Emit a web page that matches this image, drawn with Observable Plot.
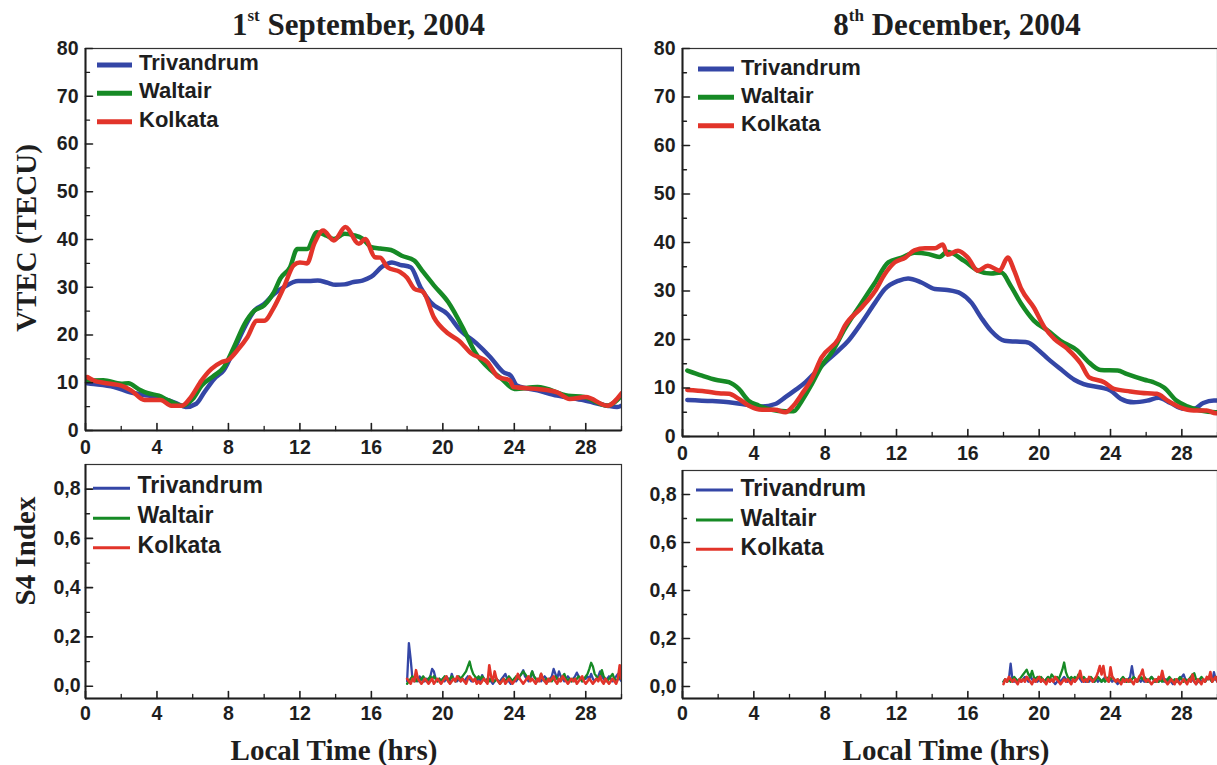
<!DOCTYPE html>
<html>
<head>
<meta charset="utf-8">
<script src="https://cdn.jsdelivr.net/npm/d3@7"></script>
<script src="https://cdn.jsdelivr.net/npm/@observablehq/plot@0.6"></script>
<style>
  body { margin: 0; background: #fff; }
  #wrap { position: relative; width: 1217px; height: 765px; overflow: hidden; background: #fff; }
  .panel { position: absolute; }
  .panel svg { overflow: visible; }
  #overlay { position: absolute; left: 0; top: 0; pointer-events: none; }
</style>
</head>
<body>
<div id="wrap"></div>
<script>
// ---------------- data ----------------
const stations = ["Trivandrum", "Waltair", "Kolkata"];
const stationColors = ["#3446a6", "#168a25", "#e2342a"];
const dayTitles = [["1", "st", " September, 2004"], ["8", "th", " December, 2004"]];
const xLabel = "Local Time (hrs)";
const vtecLabel = "VTEC (TECU)";
const s4Label = "S4 Index";

const hourMajor = [0, 4, 8, 12, 16, 20, 24, 28];
const hourMinor = [2, 6, 10, 14, 18, 22, 26, 30];
const vtecMajor = [0, 10, 20, 30, 40, 50, 60, 70, 80];
const vtecMinor = [5, 15, 25, 35, 45, 55, 65, 75];
const s4Major = [0, 0.2, 0.4, 0.6, 0.8];
const s4Minor = [0.1, 0.3, 0.5, 0.7];

// VTEC [local hour, TECU]
const sepVtecTrivandrum = [[0.1,9.9],[0.3,9.8],[1.6,9.1],[2.5,8.0],[3.5,7.3],[4.4,6.6],[5.1,5.7],[5.6,4.9],[6.2,5.6],[6.65,8.0],[7.2,10.8],[7.75,12.7],[8.3,16.8],[8.9,21.6],[9.45,25.1],[10,26.5],[10.55,28.6],[11.1,30.0],[11.9,31.3],[12.5,31.3],[13,31.4],[13.5,31.0],[14,30.5],[14.5,30.6],[15,31.1],[15.5,31.4],[16,32.2],[16.6,34.3],[17.15,35.2],[17.6,34.7],[18.2,34.2],[18.75,30.0],[19.3,26.9],[20.25,24.4],[21,20.9],[21.9,18.2],[22.65,15.4],[23.4,12.2],[23.8,11.5],[24.15,9.4],[25.3,8.4],[26.4,7.3],[27.9,6.3],[29.2,5.2],[29.75,4.9],[30,5.2]];
const sepVtecWaltair = [[0.1,10.4],[1,10.5],[2,9.8],[2.4,9.9],[3,8.6],[3.5,7.8],[4.1,7.3],[4.65,6.3],[5.4,5.2],[6,6.6],[6.5,9.4],[7.2,11.5],[7.75,13.3],[8.3,17.4],[8.9,22.3],[9.45,25.1],[10,26.2],[10.55,29.0],[10.9,31.8],[11.45,34.2],[11.85,38.0],[12.4,38.0],[12.95,41.5],[13.5,40.8],[13.9,40.1],[14.5,41.2],[15,40.9],[15.5,40.2],[16,38.4],[16.5,38.1],[17.1,37.8],[17.7,36.6],[18.4,35.6],[18.9,33.2],[19.5,30.4],[20.3,26.9],[21.2,20.9],[21.8,16.4],[22.7,12.6],[23.3,10.8],[24,8.7],[25.3,9.1],[27,7.3],[27.9,7.0],[29.2,5.2],[30,7.3]];
const sepVtecKolkata = [[0.1,11.2],[0.5,10.4],[1,10.0],[2,9.4],[2.55,8.4],[3.3,6.4],[4.2,6.4],[4.8,5.2],[5.4,5.2],[5.9,7.0],[6.5,10.5],[7.05,12.9],[7.6,14.3],[8,14.8],[8.5,16.8],[9.05,19.5],[9.6,23.0],[10,23.0],[10.55,25.8],[11.1,30.0],[11.65,34.6],[12,35.2],[12.4,35.0],[12.8,39.1],[13.3,41.9],[13.9,39.8],[14.55,42.6],[15.3,39.1],[15.65,40.1],[16.2,36.3],[16.5,36.2],[16.9,34.2],[17.6,33.2],[18.0,32.0],[18.4,29.7],[18.9,29.0],[19.5,23.7],[20.3,20.3],[20.9,18.8],[21.6,16.1],[22.5,14.3],[23.1,11.2],[23.75,10.5],[23.95,9.1],[25.3,8.7],[26.4,8.0],[27.1,6.6],[28,7.0],[29.2,5.2],[30,7.8]];

const decVtecTrivandrum = [[0.27,7.55],[1.67,7.3],[2.6,7.06],[3.5,6.6],[4.46,6.2],[5.2,6.7],[5.77,8.1],[6.3,9.5],[6.9,11.2],[7.44,13.2],[8.0,15.3],[8.74,17.7],[9.3,19.75],[10.05,23.5],[10.8,27.6],[11.35,30.4],[12.1,32.1],[12.65,32.6],[13.4,31.75],[14.15,30.4],[14.85,30.2],[15.6,29.5],[16.2,27.6],[16.75,24.5],[17.3,21.8],[18.06,19.75],[19.36,19.4],[19.9,18.0],[20.5,16.0],[21.2,13.9],[21.97,11.7],[22.5,10.8],[23.45,10.1],[24.0,9.5],[24.57,7.8],[25.3,7.06],[26.06,7.4],[26.7,8.0],[27.36,6.9],[28.1,5.7],[28.67,5.7],[29.2,6.9],[29.8,7.4],[30,7.4]];
const decVtecWaltair = [[0.27,13.6],[1.1,12.55],[1.85,11.7],[2.6,11.2],[3.16,9.8],[3.7,7.4],[4.27,6.4],[5.0,5.5],[5.77,5.2],[6.23,5.2],[6.7,7.4],[7.25,10.8],[7.8,14.6],[8.37,17.3],[9.1,22.2],[10.05,27.6],[10.8,31.75],[11.54,35.9],[12.3,36.9],[13.0,37.9],[13.8,37.6],[14.4,37.0],[14.85,38.1],[15.8,36.2],[16.56,34.2],[17.3,33.6],[17.87,33.8],[18.4,31.1],[19.0,27.3],[19.7,23.9],[20.5,21.8],[21.2,19.75],[22.15,17.7],[22.7,15.6],[23.45,13.7],[24.4,13.6],[24.9,12.9],[25.9,11.7],[26.4,11.2],[27.0,10.1],[27.7,7.4],[28.3,6.2],[29.04,5.35],[29.9,5.0],[30,5.0]];
const decVtecKolkata = [[0.27,9.6],[1.3,9.3],[2.04,8.9],[2.6,8.8],[3.16,7.75],[3.7,6.4],[4.46,5.5],[5.2,5.5],[5.77,5.0],[6.23,6.4],[6.7,8.8],[7.25,11.9],[7.8,16.3],[8.74,20.1],[9.1,22.8],[10.05,26.6],[10.8,30.0],[11.35,33.5],[11.9,35.9],[12.5,36.9],[13.0,38.4],[13.6,38.8],[14.15,38.8],[14.6,39.6],[14.85,37.5],[15.45,38.3],[16.0,36.9],[16.56,34.2],[17.12,35.2],[17.78,34.2],[18.24,36.9],[18.6,34.2],[19.0,30.4],[19.7,26.6],[20.3,22.5],[20.85,20.1],[21.6,18.0],[22.34,15.0],[22.8,12.2],[23.64,11.2],[24.2,9.8],[25.1,9.3],[26.06,8.9],[26.6,8.8],[27.2,7.4],[27.9,6.0],[28.67,5.35],[29.4,5.35],[29.9,4.8],[30,4.8]];

// S4 index, sampled every 0.1 h from 18.0 h LT
const s4StartHour = 18;
const s4StepHour = 0.1;
const sepS4Trivandrum = [
0.02,0.175,0.11,0.03,0.02,0.03,0.02,0.04,0.03,0.02,
0.02,0.03,0.02,0.04,0.07,0.06,0.03,0.02,0.03,0.02,
0.03,0.02,0.04,0.03,0.02,0.05,0.03,0.02,0.02,0.03,
0.02,0.03,0.02,0.03,0.04,0.03,0.02,0.02,0.03,0.02,
0.03,0.02,0.045,0.03,0.02,0.02,0.03,0.02,0.01,0.02,
0.03,0.02,0.02,0.03,0.04,0.05,0.03,0.02,0.01,0.02,
0.03,0.02,0.03,0.04,0.05,0.065,0.04,0.03,0.02,0.03,
0.06,0.04,0.03,0.02,0.03,0.02,0.03,0.04,0.03,0.02,
0.03,0.04,0.07,0.05,0.03,0.06,0.04,0.03,0.02,0.03,
0.04,0.03,0.02,0.03,0.04,0.055,0.04,0.03,0.02,0.03,
0.03,0.04,0.03,0.05,0.03,0.02,0.03,0.04,0.06,0.04,
0.03,0.02,0.03,0.04,0.03,0.02,0.03,0.04,0.05,0.03,0.02];
const sepS4Waltair = [
0.01,0.02,0.03,0.04,0.03,0.02,0.03,0.02,0.03,0.04,
0.03,0.02,0.03,0.04,0.03,0.04,0.03,0.02,0.03,0.02,
0.03,0.04,0.03,0.02,0.03,0.04,0.03,0.02,0.03,0.04,
0.03,0.04,0.05,0.06,0.08,0.10,0.07,0.05,0.04,0.03,
0.04,0.03,0.04,0.03,0.02,0.03,0.02,0.03,0.02,0.02,
0.03,0.02,0.01,0.02,0.03,0.02,0.03,0.04,0.03,0.02,
0.03,0.04,0.03,0.04,0.05,0.06,0.05,0.04,0.03,0.04,
0.06,0.04,0.03,0.02,0.03,0.05,0.03,0.02,0.03,0.02,
0.03,0.02,0.03,0.04,0.03,0.02,0.03,0.04,0.05,0.03,
0.02,0.03,0.02,0.03,0.02,0.03,0.04,0.03,0.02,0.03,
0.04,0.05,0.07,0.095,0.08,0.05,0.04,0.03,0.04,0.065,
0.04,0.03,0.02,0.03,0.04,0.05,0.03,0.02,0.03,0.04,0.03];
const sepS4Kolkata = [
0.03,0.02,0.01,0.03,0.02,0.065,0.03,0.02,0.01,0.02,
0.03,0.02,0.01,0.02,0.03,0.01,0.02,0.03,0.02,0.01,
0.02,0.03,0.04,0.02,0.01,0.02,0.03,0.02,0.04,0.03,
0.02,0.03,0.02,0.01,0.03,0.04,0.03,0.02,0.03,0.01,
0.02,0.01,0.02,0.03,0.02,0.01,0.085,0.04,0.02,0.06,
0.03,0.02,0.01,0.02,0.03,0.01,0.02,0.03,0.02,0.01,
0.02,0.03,0.05,0.03,0.02,0.01,0.02,0.03,0.04,0.02,
0.03,0.02,0.01,0.03,0.02,0.05,0.03,0.02,0.01,0.03,
0.02,0.03,0.04,0.02,0.01,0.03,0.02,0.04,0.03,0.02,
0.01,0.02,0.03,0.02,0.03,0.01,0.02,0.03,0.04,0.02,
0.01,0.02,0.03,0.02,0.01,0.02,0.03,0.02,0.04,0.02,
0.01,0.03,0.02,0.01,0.02,0.03,0.02,0.01,0.03,0.085,0.03];
const decS4Trivandrum = [
0.02,0.03,0.02,0.03,0.095,0.03,0.02,0.03,0.02,0.03,
0.02,0.03,0.04,0.03,0.02,0.05,0.03,0.02,0.03,0.02,
0.03,0.02,0.03,0.02,0.03,0.04,0.02,0.03,0.02,0.01,
0.02,0.03,0.02,0.03,0.04,0.03,0.02,0.03,0.02,0.03,
0.02,0.03,0.04,0.03,0.02,0.03,0.02,0.03,0.02,0.03,
0.03,0.02,0.03,0.02,0.03,0.02,0.03,0.04,0.03,0.02,
0.03,0.02,0.03,0.02,0.01,0.02,0.03,0.02,0.03,0.02,
0.03,0.04,0.085,0.04,0.03,0.02,0.03,0.02,0.03,0.02,
0.03,0.02,0.03,0.04,0.03,0.02,0.03,0.02,0.03,0.04,
0.02,0.03,0.02,0.03,0.02,0.01,0.02,0.03,0.02,0.03,
0.04,0.05,0.03,0.02,0.03,0.02,0.03,0.02,0.01,0.02,
0.03,0.02,0.03,0.02,0.03,0.04,0.03,0.02,0.06,0.03,0.02];
const decS4Waltair = [
0.02,0.03,0.02,0.03,0.02,0.03,0.04,0.03,0.02,0.03,
0.04,0.05,0.06,0.07,0.05,0.04,0.065,0.04,0.03,0.04,
0.03,0.04,0.03,0.02,0.03,0.04,0.03,0.05,0.04,0.03,
0.04,0.03,0.05,0.07,0.10,0.06,0.04,0.03,0.04,0.03,
0.04,0.03,0.05,0.04,0.03,0.04,0.03,0.02,0.03,0.04,
0.03,0.02,0.03,0.04,0.03,0.02,0.03,0.02,0.03,0.04,
0.03,0.04,0.03,0.02,0.03,0.02,0.03,0.04,0.03,0.02,
0.03,0.02,0.03,0.04,0.03,0.02,0.03,0.04,0.03,0.04,
0.03,0.02,0.03,0.04,0.03,0.02,0.03,0.02,0.03,0.02,
0.03,0.02,0.03,0.04,0.03,0.02,0.03,0.02,0.03,0.04,
0.03,0.02,0.03,0.02,0.03,0.04,0.05,0.055,0.03,0.02,
0.03,0.04,0.03,0.02,0.03,0.04,0.03,0.02,0.03,0.04,0.03];
const decS4Kolkata = [
0.01,0.03,0.02,0.04,0.03,0.02,0.03,0.02,0.01,0.03,
0.02,0.03,0.02,0.04,0.03,0.02,0.01,0.03,0.02,0.03,
0.04,0.02,0.03,0.02,0.01,0.03,0.02,0.03,0.02,0.04,
0.03,0.02,0.01,0.02,0.03,0.02,0.03,0.02,0.01,0.03,
0.02,0.03,0.04,0.065,0.03,0.02,0.03,0.02,0.04,0.03,
0.02,0.03,0.04,0.06,0.085,0.05,0.085,0.04,0.03,0.02,
0.08,0.04,0.03,0.02,0.03,0.02,0.01,0.03,0.02,0.03,
0.02,0.03,0.02,0.01,0.03,0.02,0.04,0.05,0.07,0.03,
0.02,0.03,0.02,0.01,0.02,0.03,0.02,0.04,0.03,0.065,
0.03,0.02,0.01,0.02,0.03,0.02,0.01,0.03,0.02,0.01,
0.02,0.03,0.02,0.01,0.03,0.02,0.05,0.02,0.01,0.03,
0.02,0.01,0.03,0.02,0.04,0.03,0.06,0.02,0.03,0.04,0.02];

// ---------------- helpers ----------------
const pairs = (arr) => arr.map(([t, v]) => ({t, v}));
const sampled = (arr) => arr.map((v, i) => ({t: +(s4StartHour + i * s4StepHour).toFixed(2), v}));
const commaFmt = (d) => d.toFixed(1).replace(".", ",");
const tickShape = {draw(ctx, l) { ctx.moveTo(0, 0); ctx.lineTo(0, -l); }};
const INK = "#1e1e1e";
const SANS = "'Liberation Sans', Arial, sans-serif";
const SERIF = "'Liberation Serif', 'Times New Roman', serif";
const TICK_FS = 19.5;

function panel(cfg) {
  const {series, yDomain, yMajor, yMinor, yFormat, lineWidths, curve, box, m, xPad, yPad} = cfg;
  const marks = [];
  series.forEach((s, k) => {
    marks.push(Plot.line(s, {x: "t", y: "v", stroke: stationColors[k], strokeWidth: lineWidths[k],
      curve, strokeLinejoin: "round", strokeLinecap: "round", clip: true}));
  });
  marks.push(
    Plot.frame({stroke: "#333", strokeWidth: 1.2}),
    Plot.ruleX([0], {stroke: INK, strokeWidth: 2}),
    Plot.ruleY([yDomain[0]], {stroke: INK, strokeWidth: 2}),
    Plot.vector(hourMajor, {x: d => d, frameAnchor: "bottom", length: 7, rotate: 0, anchor: "start", shape: tickShape, stroke: INK, strokeWidth: 1.6}),
    Plot.vector(hourMinor, {x: d => d, frameAnchor: "bottom", length: 4, rotate: 0, anchor: "start", shape: tickShape, stroke: INK, strokeWidth: 1.3}),
    Plot.vector(yMajor, {y: d => d, frameAnchor: "left", length: 7, rotate: 90, anchor: "start", shape: tickShape, stroke: INK, strokeWidth: 1.6}),
    Plot.vector(yMinor, {y: d => d, frameAnchor: "left", length: 4, rotate: 90, anchor: "start", shape: tickShape, stroke: INK, strokeWidth: 1.3}),
    Plot.axisX({ticks: hourMajor, tickSize: 0, tickPadding: xPad, label: null, fontSize: TICK_FS, fontWeight: "bold", fill: INK, fontFamily: SANS}),
    Plot.axisY({ticks: yMajor, tickSize: 0, tickPadding: yPad, label: null, tickFormat: yFormat, fontSize: TICK_FS, fontWeight: "bold", fill: INK, fontFamily: SANS})
  );
  const chart = Plot.plot({
    width: box.w, height: box.h,
    marginLeft: m[3], marginRight: m[1], marginTop: m[0], marginBottom: m[2],
    x: {domain: [0, 30]},
    y: {domain: yDomain},
    style: {fontFamily: SANS, fontSize: TICK_FS + "px", fontWeight: "bold", background: "transparent", overflow: "visible"},
    marks
  });
  const div = document.createElement("div");
  div.className = "panel";
  div.style.left = box.x + "px";
  div.style.top = box.y + "px";
  div.appendChild(chart);
  document.getElementById("wrap").appendChild(div);
}

// ---------------- panels ----------------
const vtecWidths = [4.5, 4.5, 4.5];
const s4Widths = [2.3, 2.3, 2.6];
panel({series: [pairs(sepVtecTrivandrum), pairs(sepVtecWaltair), pairs(sepVtecKolkata)],
  yDomain: [0, 80], yMajor: vtecMajor, yMinor: vtecMinor, yFormat: d => String(d),
  lineWidths: vtecWidths, curve: "monotone-x", box: {x: 0, y: 40, w: 630, h: 415}, m: [8, 9, 25, 85], xPad: 10, yPad: 7});
panel({series: [pairs(decVtecTrivandrum), pairs(decVtecWaltair), pairs(decVtecKolkata)],
  yDomain: [0, 80], yMajor: vtecMajor, yMinor: vtecMinor, yFormat: d => String(d),
  lineWidths: vtecWidths, curve: "monotone-x", box: {x: 630, y: 40, w: 587, h: 415}, m: [8, 0, 19, 52], xPad: 10, yPad: 7});
panel({series: [sampled(sepS4Trivandrum), sampled(sepS4Waltair), sampled(sepS4Kolkata)],
  yDomain: [-0.05, 0.9], yMajor: s4Major, yMinor: s4Minor, yFormat: commaFmt,
  lineWidths: s4Widths, curve: "linear", box: {x: 0, y: 455, w: 630, h: 310}, m: [9, 9, 67, 85], xPad: 8, yPad: 5});
panel({series: [sampled(decS4Trivandrum), sampled(decS4Waltair), sampled(decS4Kolkata)],
  yDomain: [-0.05, 0.9], yMajor: s4Major, yMinor: s4Minor, yFormat: commaFmt,
  lineWidths: s4Widths, curve: "linear", box: {x: 630, y: 455, w: 587, h: 310}, m: [15, 0, 67, 52], xPad: 8, yPad: 6});

// ---------------- titles, axis labels, legends ----------------
const legends = [
  {x1: 97, x2: 132, tx: 139, lineY: [65, 93.3, 121.7], baseY: [70, 98.3, 126.7], fs: 22, lw: 5},
  {x1: 698, x2: 734, tx: 741, lineY: [69, 97.3, 125.7], baseY: [75, 103.3, 131], fs: 22, lw: 5},
  {x1: 93, x2: 130, tx: 137.6, lineY: [488.3, 518.3, 547.7], baseY: [493.3, 523.3, 553.3], fs: 23, lw: 3},
  {x1: 696, x2: 733, tx: 740.6, lineY: [490, 520, 549.3], baseY: [496, 526, 555], fs: 23, lw: 3}
];
let svg = `<svg id="overlay" width="1217" height="765" xmlns="http://www.w3.org/2000/svg">`;
const titleX = [358.5, 957];
dayTitles.forEach((t, i) => {
  svg += `<text x="${titleX[i]}" y="35" text-anchor="middle" font-family="${SERIF}" font-weight="bold" font-size="31" fill="${INK}">${t[0]}<tspan dy="-14" font-size="17">${t[1]}</tspan><tspan dy="14">${t[2]}</tspan></text>`;
});
svg += `<text transform="translate(36,238) rotate(-90)" text-anchor="middle" font-family="${SERIF}" font-weight="bold" font-size="29" fill="${INK}">${vtecLabel}</text>`;
svg += `<text transform="translate(35,551) rotate(-90)" text-anchor="middle" font-family="${SERIF}" font-weight="bold" font-size="29" fill="${INK}">${s4Label}</text>`;
[334, 946].forEach(cx => {
  svg += `<text x="${cx}" y="760" text-anchor="middle" font-family="${SERIF}" font-weight="bold" font-size="29" fill="${INK}">${xLabel}</text>`;
});
legends.forEach(L => {
  stations.forEach((name, k) => {
    svg += `<line x1="${L.x1}" x2="${L.x2}" y1="${L.lineY[k]}" y2="${L.lineY[k]}" stroke="${stationColors[k]}" stroke-width="${L.lw}"/>`;
    svg += `<text x="${L.tx}" y="${L.baseY[k]}" font-family="${SANS}" font-weight="bold" font-size="${L.fs}" fill="${INK}">${name}</text>`;
  });
});
svg += `</svg>`;
document.getElementById("wrap").insertAdjacentHTML("beforeend", svg);
</script>
</body>
</html>
